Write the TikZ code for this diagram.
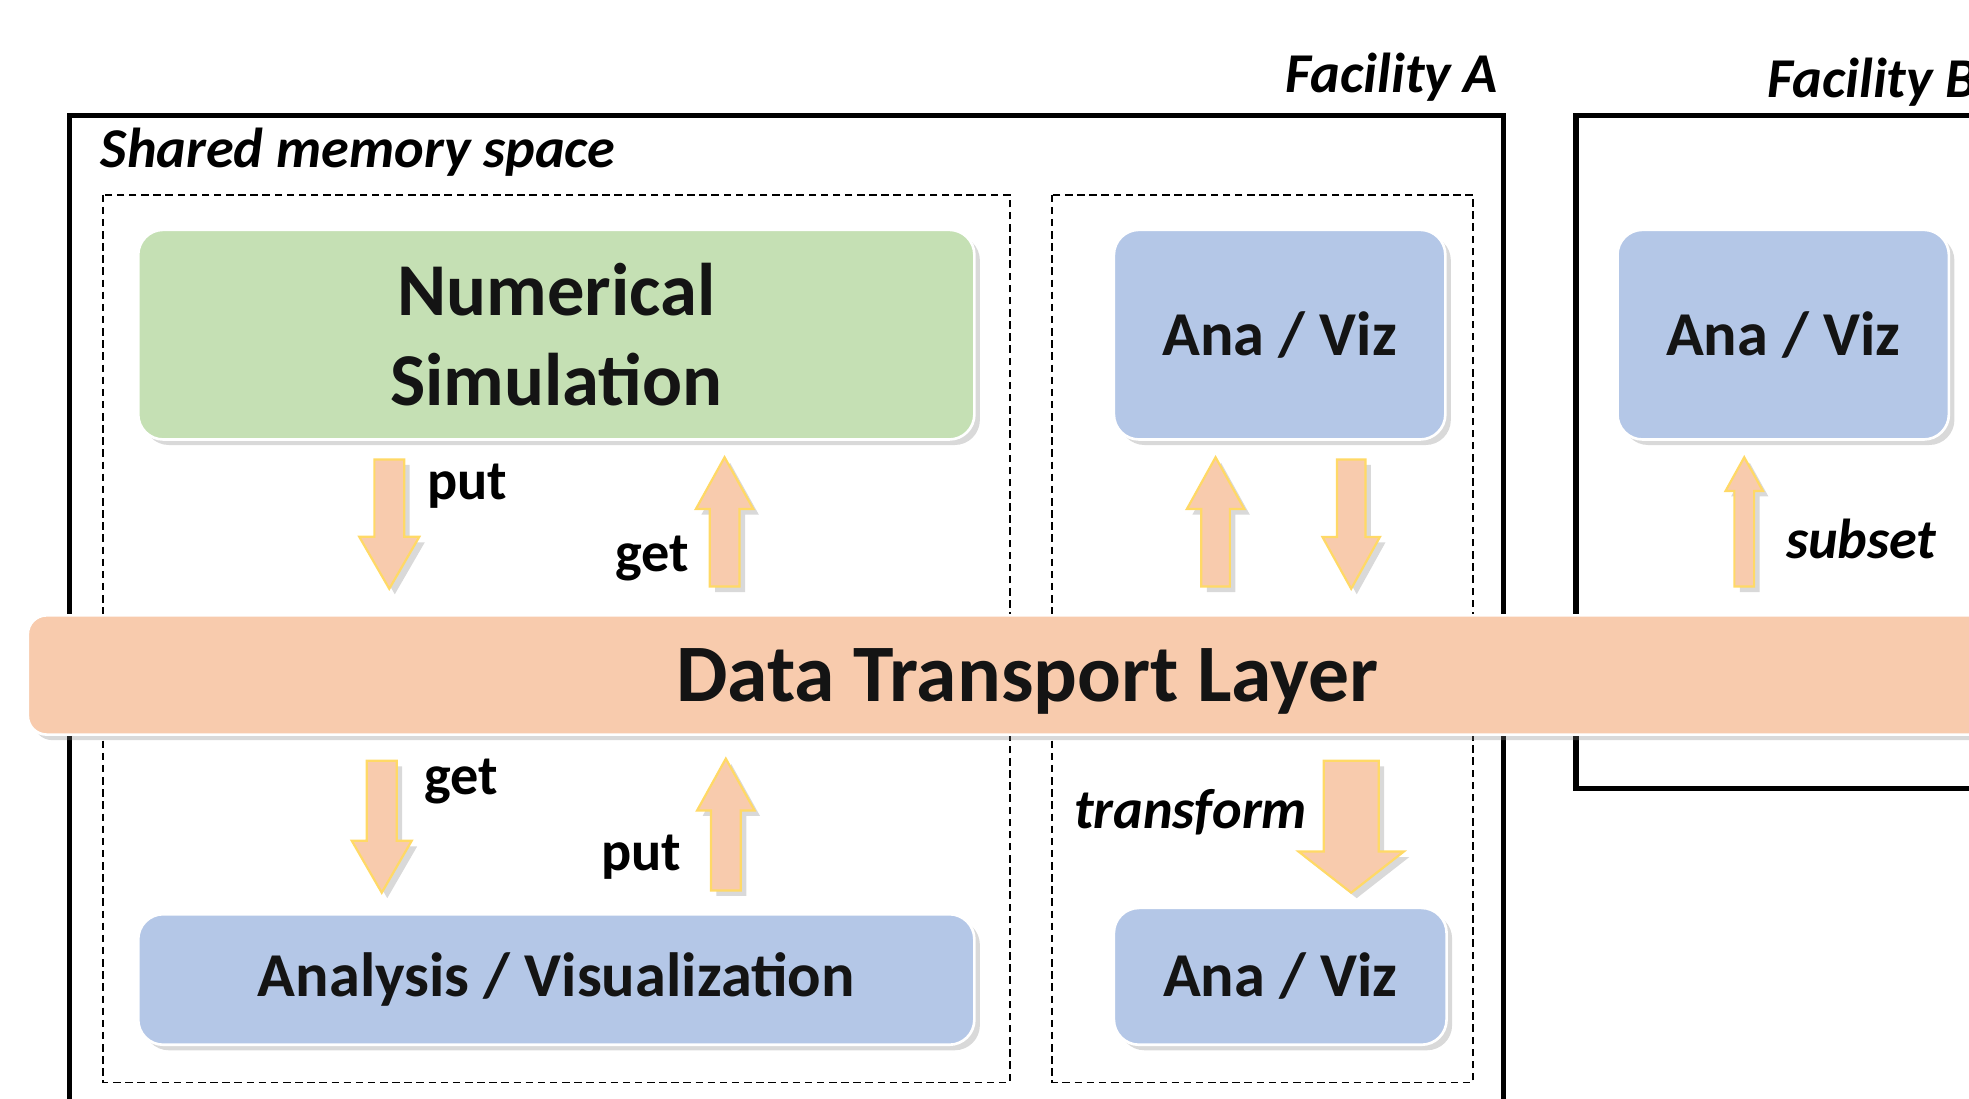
\documentclass[tikz,border=0pt]{standalone}
\usepackage{fontspec}
\setmainfont{Carlito}
\usepackage{tikz}
\usetikzlibrary{shapes.arrows,shadows,positioning}
\definecolor{simgreen}{HTML}{C5E0B4}
\definecolor{vizblue}{HTML}{B4C7E7}
\definecolor{layerpeach}{HTML}{F8CBAD}
\definecolor{arrowline}{HTML}{FFD966}
\definecolor{textdark}{HTML}{141414}
\tikzset{
    boxshadow/.style={drop shadow={shadow xshift=2.5pt, shadow yshift=-2.5pt, opacity=0.3}},
    box/.style={rectangle, rounded corners=0.4cm, draw=white, line width=1.2pt, boxshadow,
        text=textdark, align=center, inner sep=0pt, font=\bfseries\fontsize{28.3}{34}\selectfont},
    simbox/.style={box, fill=simgreen, font=\bfseries\fontsize{33.8}{40.8}\selectfont},
    vizbox/.style={box, fill=vizblue},
    layer/.style={rectangle, rounded corners=0.3cm, draw=white, line width=1.2pt, boxshadow,
        fill=layerpeach, text=textdark, inner sep=0pt, text depth=0pt,
        font=\bfseries\fontsize{37}{44}\selectfont},
    blockarrow/.style={single arrow, draw=arrowline, fill=layerpeach, line width=1pt,
        inner xsep=0pt, text height=0pt, text depth=0pt, anchor=tail, boxshadow},
    barrow/.style n args={4}{blockarrow, minimum height=#1, inner ysep=0.5*#2,
        minimum width=#3, single arrow head extend=0.5*#3-0.5*#2, single arrow tip angle=#4},
    verb/.style={font=\bfseries\fontsize{25.5}{30}\selectfont, inner sep=0pt},
    verbit/.style={font=\bfseries\itshape\fontsize{25.5}{30}\selectfont, inner sep=0pt},
    facility/.style={line width=2.3pt},
    space/.style={line width=0.85pt, dash pattern=on 3.4pt off 2.1pt}
}

\begin{document}
\begin{tikzpicture}[x=0.02cm, y=-0.02cm]
    \useasboundingbox (0,0) rectangle (1568,875);
    \clip (0,0) rectangle (1568,875);

    % Frames
    \draw[facility] (55,92) rectangle (1197,920);
    \draw[facility] (1255,92) rectangle (1640,628);
    \draw[space] (82,155) rectangle (804,862);
    \draw[space] (838,155) rectangle (1173,862);
    \node[verbit, anchor=base east] (facA) at (1193,74) {Facility A};
    \node[verbit, anchor=base west] (facB) at (1407,78) {Facility B};
    \node[verbit, anchor=base west] (shared) at (80,133) {Shared memory space};

    % Nodes
    \node[simbox, minimum width=13.32cm, minimum height=3.34cm] (sim) at (443,266.5) {Numerical\\Simulation};
    \node[vizbox, minimum width=5.28cm, minimum height=3.34cm] (vizA) at (1019,266.5) {Ana / Viz};
    \node[vizbox, minimum width=5.28cm, minimum height=3.34cm] (vizB) at (1420,266.5) {Ana / Viz};
    \node[vizbox, minimum width=13.32cm, minimum height=2.08cm] (ana) at (443,780) {Analysis / Visualization};
    \node[vizbox, minimum width=5.3cm, minimum height=2.18cm] (vizC) at (1019.5,777.5) {Ana / Viz};
    \node[layer, minimum width=31.84cm, minimum height=1.9cm] (dtl) at (818,537.5) {Data Transport Layer};

    % arrows
    \node[barrow={2.06cm}{0.44cm}{0.92cm}{60}, rotate=-90] (simput) at (310,365) {};
    \node[barrow={2.06cm}{0.44cm}{0.88cm}{58}, rotate=90] (simget) at (577,468) {};
    \node[barrow={2.06cm}{0.42cm}{0.88cm}{58}, rotate=90] (vizAget) at (968,468) {};
    \node[barrow={2.06cm}{0.42cm}{0.88cm}{58}, rotate=-90] (vizAput) at (1076,365) {};
    \node[barrow={2.06cm}{0.28cm}{0.56cm}{58}, rotate=90] (vizBget) at (1389,468) {};
    \node[barrow={2.1cm}{0.44cm}{0.92cm}{60}, rotate=-90] (anaget) at (304,605) {};
    \node[barrow={2.1cm}{0.44cm}{0.88cm}{58}, rotate=90] (anaput) at (578,710) {};
    \node[barrow={2.1cm}{0.84cm}{1.64cm}{104}, rotate=-90] (vizCget) at (1076,605) {};

    % labels
    \node[verb, anchor=base west] (lput) at (340,398) {put};
    \node[verb, anchor=base east] (lget) at (549,455) {get};
    \node[verb, anchor=base west] (lget2) at (338,633) {get};
    \node[verb, anchor=base east] (lput2) at (543,693) {put};
    \node[verbit, anchor=base west] (ltrans) at (855,660) {transform};
    \node[verbit, anchor=base west] (lsubset) at (1422,445) {subset};
\end{tikzpicture}
\end{document}
